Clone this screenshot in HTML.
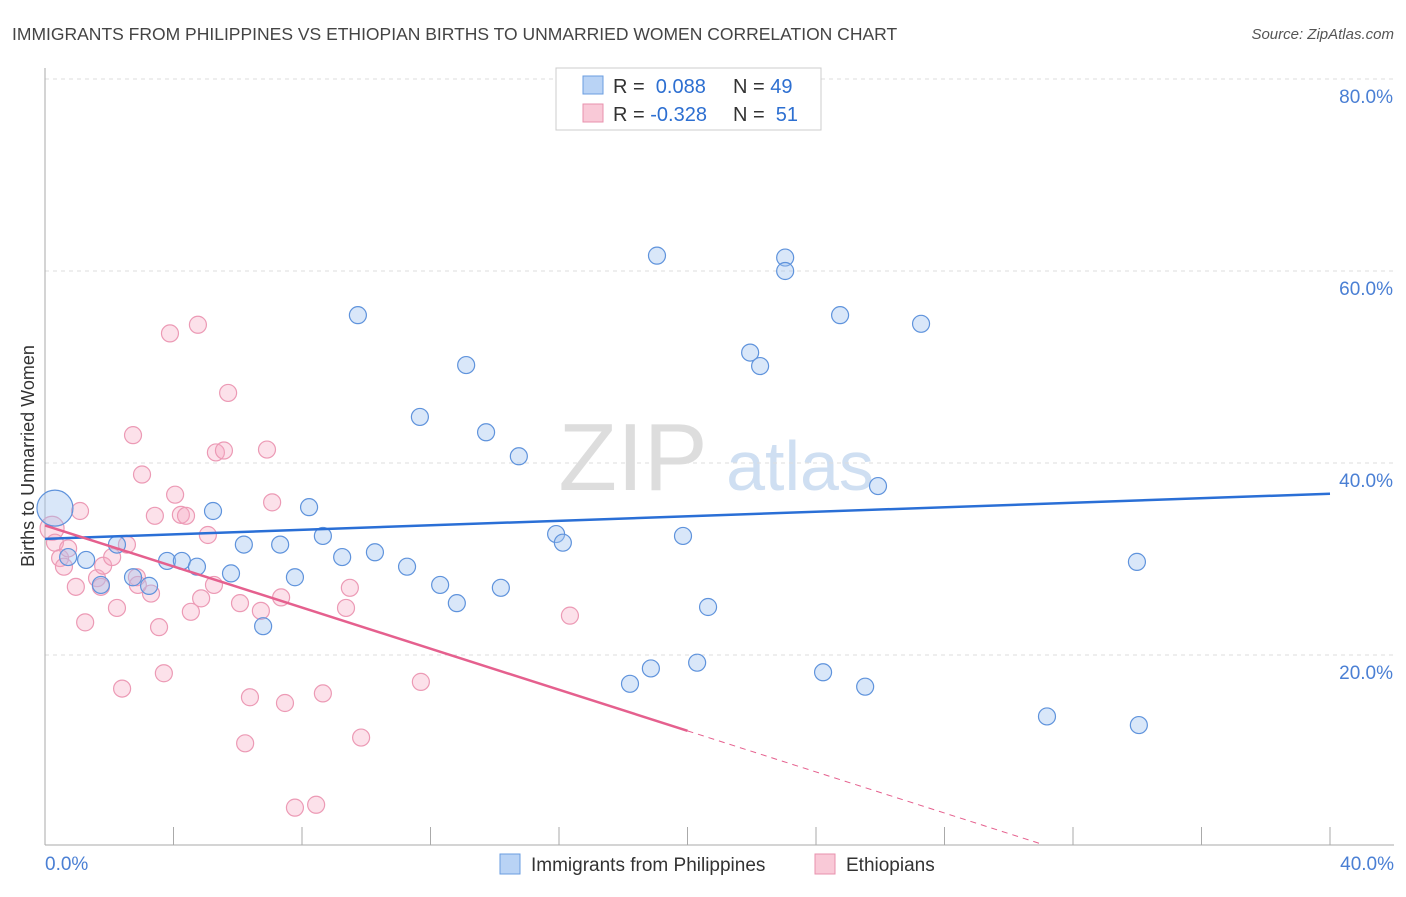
<!DOCTYPE html>
<html><head><meta charset="utf-8"><style>
body{margin:0;background:#fff;font-family:"Liberation Sans",sans-serif;}
svg text{font-family:"Liberation Sans",sans-serif;}
</style></head><body>
<svg id="c" width="1406" height="892" xmlns="http://www.w3.org/2000/svg">
<text x="12" y="40" font-size="17.5" fill="#444">IMMIGRANTS FROM PHILIPPINES VS ETHIOPIAN BIRTHS TO UNMARRIED WOMEN CORRELATION CHART</text>
<text x="1394" y="39" font-size="15" fill="#555" font-style="italic" text-anchor="end">Source: ZipAtlas.com</text>
<text x="633" y="490" font-size="96" fill="#ddd" font-family="Liberation Serif" text-anchor="middle">ZIP</text>
<text x="800" y="490" font-size="70" fill="#cfdff2" text-anchor="middle">atlas</text>
<text transform="translate(34,456) rotate(-90)" font-size="18" fill="#333" text-anchor="middle">Births to Unmarried Women</text>
<g id="grid"></g><g id="axes"></g><g id="pts"></g><g id="trend"></g>
<g>
<rect x="556" y="68" width="265" height="62" fill="#fff" stroke="#ccc"/>
<rect x="583" y="76" width="20" height="18" fill="#b9d3f5" stroke="#6a9ce0"/>
<rect x="583" y="104" width="20" height="18" fill="#f9c9d7" stroke="#e891ad"/>
<text x="613" y="93" font-size="20" fill="#333">R = <tspan fill="#2d6fd1">&#160;0.088</tspan><tspan x="733">N = </tspan><tspan fill="#2d6fd1">49</tspan></text>
<text x="613" y="121" font-size="20" fill="#333">R = <tspan fill="#2d6fd1">-0.328</tspan><tspan x="733">N = </tspan><tspan fill="#2d6fd1">&#160;51</tspan></text>
</g>
<g>
<rect x="500" y="854" width="20" height="20" fill="#b9d3f5" stroke="#6a9ce0"/>
<text x="531" y="871" font-size="19" fill="#333">Immigrants from Philippines</text>
<rect x="815" y="854" width="20" height="20" fill="#f9c9d7" stroke="#e891ad"/>
<text x="846" y="871" font-size="19" fill="#333">Ethiopians</text>
</g>
</svg>
<script>
const xTicks=[0,4,8,12,16,20,24,28,32,36,40];
const yTicks=[20,40,60,80];
const yTickLabels=["20.0%","40.0%","60.0%","80.0%"];
const xEndLabels=["0.0%","40.0%"];
const phX=[0.31,0.72,1.28,1.74,2.74,2.24,3.24,3.80,4.26,4.73,5.23,5.79,6.19,6.79,7.32,7.78,8.22,8.65,9.25,9.74,10.27,11.27,11.67,12.30,12.82,13.11,13.73,14.19,14.75,15.91,16.12,18.21,18.86,19.05,19.86,20.30,20.64,21.95,22.26,23.04,23.04,24.22,24.75,25.53,25.93,27.27,31.19,33.99,34.05];
const phY=[35.3,30.2,29.9,27.3,28.1,31.5,27.2,29.8,29.8,29.2,35.0,28.5,31.5,23.0,31.5,28.1,35.4,32.4,30.2,55.4,30.7,29.2,44.8,27.3,25.4,50.2,43.2,27.0,40.7,32.6,31.7,17.0,18.6,61.6,32.4,19.2,25.0,51.5,50.1,61.4,60.0,18.2,55.4,16.7,37.6,54.5,13.6,29.7,12.7];
const etX=[0.22,0.31,0.47,0.72,0.59,1.09,0.96,1.25,1.62,1.74,1.81,2.09,2.24,2.40,2.55,2.86,3.02,3.30,3.42,3.55,3.70,3.89,4.05,4.23,4.39,4.54,4.76,4.86,5.07,5.26,5.32,5.57,5.70,6.07,6.23,6.38,6.72,6.91,7.07,7.35,7.47,7.78,8.44,8.65,9.37,9.49,9.84,11.70,16.34,2.74,2.89];
const etY=[33.2,31.7,30.1,31.1,29.2,35.0,27.1,23.4,28.0,27.1,29.3,30.2,24.9,16.5,31.5,28.1,38.8,26.4,34.5,22.9,18.1,53.5,36.7,34.6,34.5,24.5,54.4,25.9,32.5,27.3,41.1,41.3,47.3,25.4,10.8,15.6,24.6,41.4,35.9,26.0,15.0,4.1,4.4,16.0,24.9,27.0,11.4,17.2,24.1,42.9,27.3];
const phTrend=[32.1,36.8];
const etTrend=[33.5,-1.07];
const NS="http://www.w3.org/2000/svg";
const X=v=>45+v*1285/40, Y=v=>847-v*9.6;
function mk(t,a,p){const e=document.createElementNS(NS,t);for(const k in a)e.setAttribute(k,a[k]);document.getElementById(p).appendChild(e);return e;}
yTicks.forEach((t,i)=>{
 const g=mk('line',{x1:45,x2:1394,y1:Y(t),y2:Y(t),stroke:'#ddd','stroke-dasharray':'4,4'},'grid');
 
 
 const l=mk('text',{x:1393,y:Y(t)+24,'font-size':19,fill:'#4a7fd4','text-anchor':'end'},'axes');
 l.textContent=yTickLabels[i];
 
 
});
const ax=mk('line',{x1:45,x2:1394,y1:845,y2:845,stroke:'#aaa'},'axes');


const ay=mk('line',{x1:45,x2:45,y1:68,y2:845,stroke:'#aaa'},'axes');


xTicks.forEach(t=>{const e=mk('line',{x1:X(t),x2:X(t),y1:827,y2:845,stroke:'#aaa'},'axes');
 
 });
[[0,'start',45],[1,'end',1394]].forEach(([i,a,x])=>{const e=mk('text',{x:x,y:870,'font-size':19,fill:'#4a7fd4','text-anchor':a},'axes');e.textContent=xEndLabels[i];
 
 });
etX.forEach((v,i)=>{const c=mk('circle',{cx:X(v),cy:Y(etY[i]),r:i==0?12:8.5,fill:'rgba(246,170,195,0.35)',stroke:'#ec9ab5','stroke-width':1.2},'pts');
 
 });
phX.forEach((v,i)=>{const c=mk('circle',{cx:X(v),cy:Y(phY[i]),r:i==0?18:8.5,fill:'rgba(160,195,240,0.4)',stroke:'#5f93dc','stroke-width':1.2},'pts');
 
 });
const t1=mk('line',{x1:X(0),y1:Y(phTrend[0]),x2:X(40),y2:Y(phTrend[1]),stroke:'#2a6fd6','stroke-width':2.5},'trend');


const ey=x=>etTrend[0]+etTrend[1]*x;
const t2=mk('line',{x1:X(0),y1:Y(ey(0)),x2:X(20),y2:Y(ey(20)),stroke:'#e5608e','stroke-width':2.5},'trend');


const t3=mk('line',{x1:X(20),y1:Y(ey(20)),x2:X(31),y2:Y(ey(31)),stroke:'#e5608e','stroke-width':1,'stroke-dasharray':'6,5'},'trend');


</script>
</body></html>
